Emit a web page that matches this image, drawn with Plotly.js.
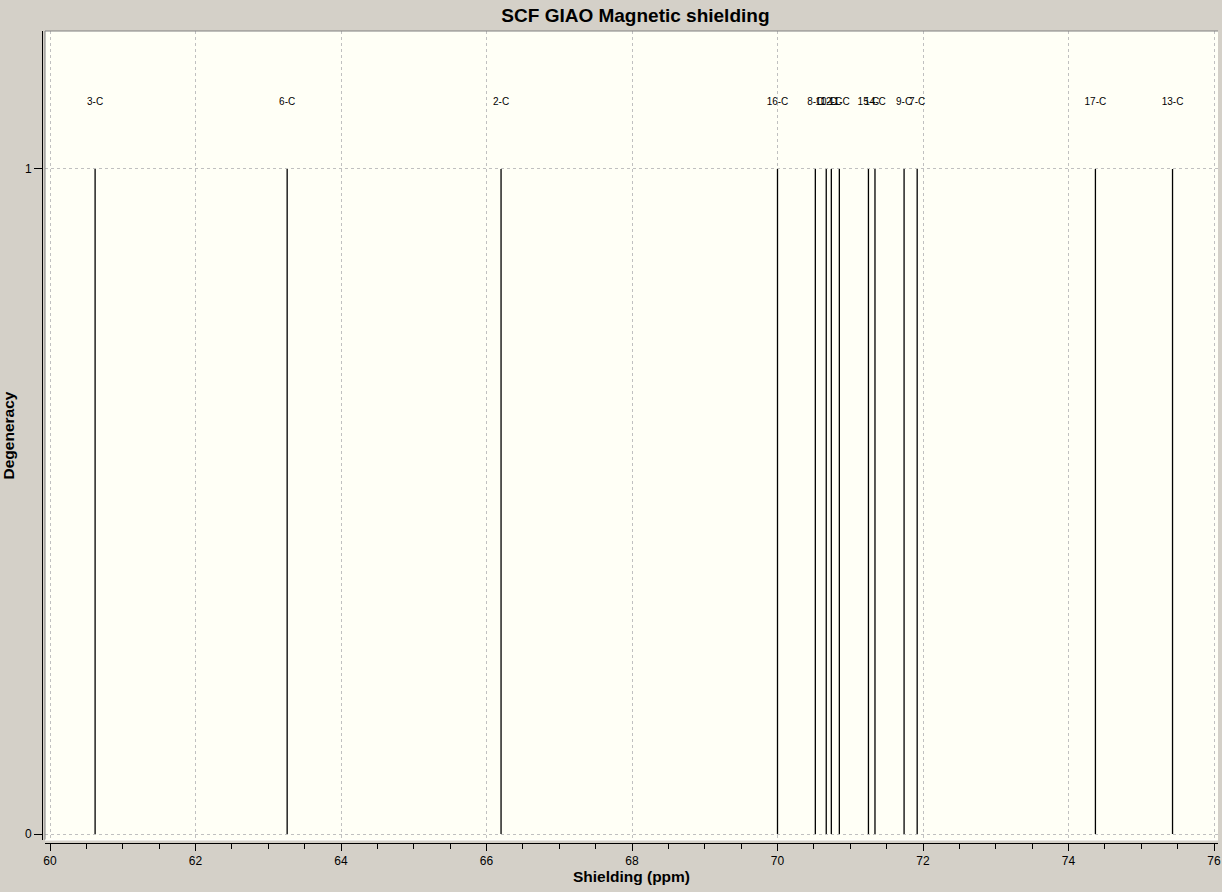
<!DOCTYPE html>
<html>
<head>
<meta charset="utf-8">
<script src="https://cdn.plot.ly/plotly-3.0.1.min.js"></script>
<style>
  html, body { margin: 0; padding: 0; background: #d4d0c8; }
  #shielding-plot { width: 1222px; height: 892px; }
</style>
</head>
<body>
<div id="shielding-plot"></div>
<script>
// Shielding values (ppm), one per carbon
var shielding = [60.62, 63.26, 66.20, 70.00, 70.52, 70.67, 70.74, 70.85,
                 71.25, 71.34, 71.74, 71.92, 74.37, 75.43];
var degeneracy = [1, 1, 1, 1, 1, 1, 1, 1, 1, 1, 1, 1, 1, 1];
var atom_labels = ['3-C', '6-C', '2-C', '16-C', '8-C', '10-C', '12-C', '11-C',
                   '15-C', '14-C', '9-C', '7-C', '17-C', '13-C'];
var x_tick_values = [60, 62, 64, 66, 68, 70, 72, 74, 76];
var y_tick_values = [0, 1];

function init_shielding_plot(){
    // stick spectrum: one vertical segment per value, split with nulls
    var stick_x = [];
    var stick_y = [];
    for (var i = 0; i < shielding.length; i++) {
        stick_x.push(shielding[i], shielding[i], null);
        stick_y.push(0, degeneracy[i], null);
    }

    var sticks = {
      x: stick_x,
      y: stick_y,
      type: 'scatter',
      mode: 'lines',
      line: { color: '#000000', width: 1.3 },
      hoverinfo: 'skip',
      showlegend: false
    };

    // atom labels sit a little above each stick (they overlap in the cluster, as in the original)
    var label_y = degeneracy.map(function(d){ return d + 0.1; });
    var labels = {
      x: shielding,
      y: label_y,
      text: atom_labels,
      type: 'scatter',
      mode: 'text',
      textposition: 'middle center',
      textfont: { family: 'Liberation Sans, Arial, sans-serif', size: 10, color: '#000000' },
      showlegend: false
    };

    var data = [sticks, labels];

    var layout = {
        width: 1222,
        height: 892,
        paper_bgcolor: '#d4d0c8',
        plot_bgcolor: '#fffff6',
        margin: { l: 42, r: 4, t: 31, b: 49 },
        showlegend: false,
        title: {
            text: 'SCF GIAO Magnetic shielding',
            font: { family: 'Liberation Sans, Arial, sans-serif', size: 19, color: '#000000', weight: 'bold' },
            x: 0.52, xanchor: 'center',
            y: 0.983, yanchor: 'middle'
        },
        xaxis: {
            domain: [3 / 1176, 1],
            range: [59.9313, 76.055],
            anchor: 'free',
            position: 0,
            tickvals: x_tick_values,
            ticks: 'outside',
            ticklen: 7,
            tickcolor: '#000000',
            tickwidth: 1,
            minor: { dtick: 0.5, tick0: 60, ticks: 'outside', ticklen: 5, tickcolor: '#000000', showgrid: false },
            showline: true,
            linecolor: '#000000',
            linewidth: 1,
            showgrid: true,
            gridcolor: '#c0c0c0',
            griddash: '3px,3px',
            zeroline: false,
            tickfont: { family: 'Liberation Sans, Arial, sans-serif', size: 12, color: '#000000' },
            title: {
                text: 'Shielding (ppm)',
                font: { family: 'Liberation Sans, Arial, sans-serif', size: 15.5, color: '#000000', weight: 'bold' },
                standoff: 3
            }
        },
        yaxis: {
            domain: [3 / 812, 1],
            range: [-0.00902, 1.2075],
            anchor: 'free',
            position: 0,
            tickvals: y_tick_values,
            ticks: 'outside',
            ticklen: 8,
            tickcolor: '#000000',
            showline: true,
            linecolor: '#000000',
            linewidth: 1,
            showgrid: true,
            gridcolor: '#c0c0c0',
            griddash: '3px,3px',
            zeroline: false,
            tickfont: { family: 'Liberation Sans, Arial, sans-serif', size: 12, color: '#000000' },
            title: {
                text: 'Degeneracy',
                font: { family: 'Liberation Sans, Arial, sans-serif', size: 15.5, color: '#000000', weight: 'bold' },
                standoff: 5
            }
        },
        shapes: [
            // sunken frame round the plotting area
            { type: 'line', xref: 'x domain', yref: 'y domain', x0: 0, x1: 1, y0: 1, y1: 1,
              line: { color: '#808080', width: 1 } },
            { type: 'line', xref: 'x domain', yref: 'y domain', x0: 0, x1: 0, y0: 0, y1: 1,
              line: { color: '#808080', width: 1 } },
            { type: 'line', xref: 'x domain', yref: 'y domain', x0: 0, x1: 1, y0: 0, y1: 0,
              line: { color: '#ffffff', width: 1 } }
        ]
    };

    var additional_param = {
        displayModeBar: false,
        displaylogo: false
    };

    var plotDiv = document.getElementById('shielding-plot');
    if(plotDiv)
    {
        Plotly.newPlot('shielding-plot', data, layout, additional_param);
    }
};

init_shielding_plot();
</script>
</body>
</html>
